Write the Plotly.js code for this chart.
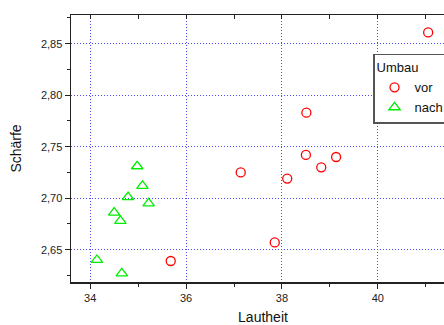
<!DOCTYPE html>
<html>
<head>
<meta charset="utf-8">
<script src="https://cdn.plot.ly/plotly-3.0.1.min.js"></script>
<style>
html,body{margin:0;padding:0;overflow:hidden;width:444px;height:325px;background:#fff;}
#chart{width:470px;height:325px;}
</style>
</head>
<body>
<div id="chart"></div>
<script>
// Data
const vorLautheit = [41.05, 38.51, 38.50, 39.13, 38.82, 37.14, 38.11, 37.85, 35.68];
const vorSchaerfe = [2.861, 2.783, 2.742, 2.740, 2.730, 2.725, 2.719, 2.657, 2.639];
const nachLautheit = [34.98, 35.09, 34.79, 35.22, 34.50, 34.63, 34.14, 34.66];
const nachSchaerfe = [2.731, 2.712, 2.701, 2.695, 2.686, 2.678, 2.640, 2.627];
const seriesNames = ["vor", "nach"];
const legendTitle = "Umbau";
const xTitle = "Lautheit";
const yTitle = "Schärfe";

const font = "Liberation Sans, Arial, sans-serif";
const gridColor = "#4a4aff";

const traces = [
  {
    x: vorLautheit, y: vorSchaerfe, name: seriesNames[0], type: "scatter", mode: "markers",
    marker: {symbol: "circle-open", size: 9, color: "#ff0000", line: {width: 1.3, color: "#ff0000"}}
  },
  {
    x: nachLautheit, y: nachSchaerfe, name: seriesNames[1], type: "scatter", mode: "markers",
    marker: {symbol: "triangle-up-open", size: 10, color: "#00ee00", line: {width: 1.3, color: "#00ee00"}}
  },
  {
    x: [], y: [], xaxis: "x2", yaxis: "y", showlegend: false, hoverinfo: "skip", type: "scatter"
  }
];

const layout = {
  width: 470, height: 325,
  margin: {l: 71, r: 15, t: 15, b: 43},
  paper_bgcolor: "#fff", plot_bgcolor: "#fff",
  separators: ",.",
  font: {family: font, size: 11, color: "#222"},
  showlegend: true,
  legend: {
    title: {text: legendTitle, font: {family: font, size: 13, color: "#111"}},
    x: 0.7865, y: 0.854, xanchor: "left", yanchor: "top",
    bgcolor: "#fff", bordercolor: "#555", borderwidth: 1.5,
    font: {family: font, size: 13, color: "#111"},
    tracegroupgap: 0, itemwidth: 30
  },
  xaxis: {
    range: [33.6, 41.61],
    tickvals: [34, 36, 38, 40], ticktext: ["34", "36", "38", "40"],
    ticks: "outside", ticklen: 5, tickwidth: 1, tickcolor: "#222",
    showline: true, linecolor: "#222", linewidth: 1.5,
    showgrid: true, gridcolor: gridColor, griddash: "1px,2px", gridwidth: 1,
    zeroline: false,
    minor: {dtick: 1, tick0: 35, ticks: "outside", ticklen: 3, tickcolor: "#222", showgrid: false},
    title: {text: xTitle, font: {family: font, size: 14, color: "#111"}, standoff: 13},
    tickfont: {family: font, size: 11, color: "#222"}
  },
  xaxis2: {
    overlaying: "x", side: "top", range: [33.6, 41.61],
    dtick: 1, tick0: 34, ticks: "inside", ticklen: 4, tickcolor: "#222",
    showticklabels: false, showline: true, linecolor: "#222", linewidth: 1.5,
    showgrid: false, zeroline: false
  },
  yaxis: {
    range: [2.6186, 2.8779],
    tickvals: [2.65, 2.70, 2.75, 2.80, 2.85],
    tickformat: ".2f",
    ticks: "outside", ticklen: 5, tickwidth: 1, tickcolor: "#222",
    showline: true, linecolor: "#222", linewidth: 1.5,
    showgrid: true, gridcolor: gridColor, griddash: "1px,2px", gridwidth: 1,
    zeroline: false,
    minor: {dtick: 0.05, tick0: 2.625, ticks: "outside", ticklen: 3, tickcolor: "#222", showgrid: false},
    title: {text: yTitle, font: {family: font, size: 14, color: "#111"}, standoff: 16},
    tickfont: {family: font, size: 11, color: "#222"}
  }
};

Plotly.newPlot("chart", traces, layout, {displayModeBar: false, staticPlot: true});
</script>
</body>
</html>
